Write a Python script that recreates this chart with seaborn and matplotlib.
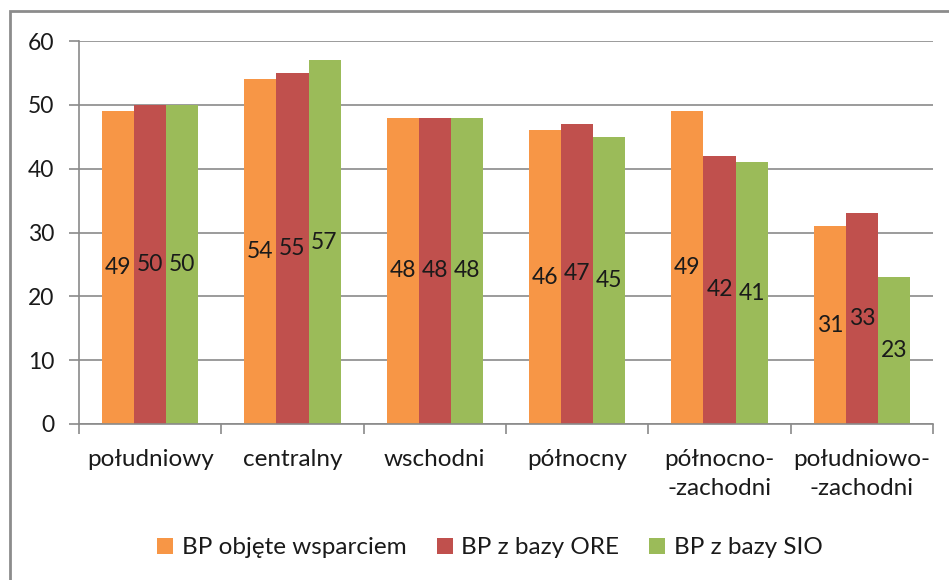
import matplotlib
matplotlib.use("Agg")
import matplotlib.pyplot as plt
from matplotlib.patches import Rectangle
from matplotlib.ticker import FixedLocator, NullFormatter
import seaborn as sns
import pandas as pd

categories = ["południowy", "centralny", "wschodni", "północny",
              "północno-\n-zachodni", "południowo-\n-zachodni"]
series = ["BP objęte wsparciem", "BP z bazy ORE", "BP z bazy SIO"]
vals_wsparcie = [49, 54, 48, 46, 49, 31]
vals_ore = [50, 55, 48, 47, 42, 33]
vals_sio = [50, 57, 48, 45, 41, 23]
colors = ["#F79646", "#C0504D", "#9BBB59"]
y_ticks = [0, 10, 20, 30, 40, 50, 60]

rows = []
for s, vals in zip(series, [vals_wsparcie, vals_ore, vals_sio]):
    for c, v in zip(categories, vals):
        rows.append({"region": c, "seria": s, "wartosc": v})
df = pd.DataFrame(rows)

sns.set_theme(style="white")
plt.rcParams["font.family"] = ["Lato", "DejaVu Sans"]

W, H = 949, 580
fig = plt.figure(figsize=(W / 100, H / 100), dpi=100)
ax = fig.add_axes([79 / W, 1 - 424 / H, (933 - 79) / W, (424 - 41) / H])

sns.barplot(data=df, x="region", y="wartosc", hue="seria", order=categories,
            hue_order=series, palette=colors, width=0.675, gap=0,
            saturation=1, ax=ax, legend=False, errorbar=None,
            edgecolor="none", linewidth=0)

for cont in ax.containers:
    ax.bar_label(cont, label_type="center", fontsize=16.5, color="#1a1a1a")

ax.set_xlim(-0.5, len(categories) - 0.5)
ax.set_ylim(0, 60)
ax.set_yticks(y_ticks)
ax.yaxis.grid(True, color="#8a8a8a", linewidth=1.2)
ax.set_axisbelow(True)
ax.set_xlabel("")
ax.set_ylabel("")

# category boundaries get tick marks, labels stay centred
ax.xaxis.set_minor_locator(FixedLocator([i - 0.5 for i in range(len(categories) + 1)]))
ax.xaxis.set_minor_formatter(NullFormatter())
ax.tick_params(axis="x", which="major", length=0, pad=18, labelsize=17.5, labelcolor="#1a1a1a")
ax.tick_params(axis="x", which="minor", length=7, width=1.2, color="#8a8a8a", bottom=True)
ax.tick_params(axis="y", which="major", length=7, width=1.2, color="#8a8a8a", left=True,
               pad=11, labelsize=16.5, labelcolor="#1a1a1a")
for lbl in ax.get_xticklabels():
    lbl.set_linespacing(1.45)

for side in ["top", "right"]:
    ax.spines[side].set_visible(False)
for side in ["left", "bottom"]:
    ax.spines[side].set_color("#8a8a8a")
    ax.spines[side].set_linewidth(1.2)

handles = [Rectangle((0, 0), 1, 1, facecolor=c, edgecolor="none") for c in colors]
fig.legend(handles, series, loc="center", bbox_to_anchor=(490 / W, 1 - 548 / H), ncol=3,
           frameon=False, fontsize=17.5, handlelength=0.65, handleheight=0.65,
           handletextpad=0.35, columnspacing=1.25, labelcolor="#1a1a1a")

# outer chart frame
fig.patches.append(Rectangle((10 / W, -0.1), 1.2, 1 - 11 / H + 0.1,
                             transform=fig.transFigure, fill=False,
                             edgecolor="#8c8c8c", linewidth=2))

fig.savefig("out.png", dpi=100)
